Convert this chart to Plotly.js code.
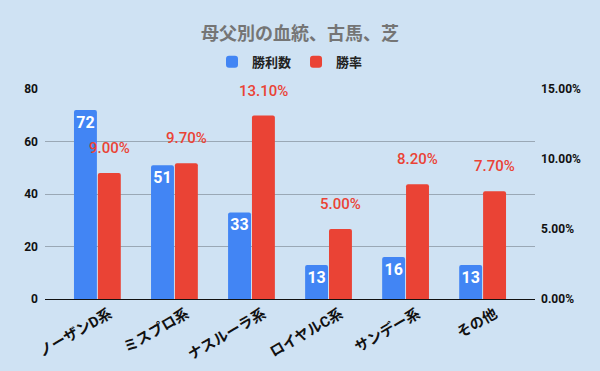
<!DOCTYPE html>
<html>
<head>
<meta charset="utf-8">
<script src="https://cdn.plot.ly/plotly-3.0.1.min.js"></script>
<style>html,body{margin:0;padding:0;background:#cfe2f3;}#chart{width:600px;height:371px;}</style>
</head>
<body>
<div id="chart"></div>
<script>
const categories = ["ノーザンD系", "ミスプロ系", "ナスルーラ系", "ロイヤルC系", "サンデー系", "その他"];
const wins = [72, 51, 33, 13, 16, 13];
const winRate = [0.09, 0.097, 0.131, 0.05, 0.082, 0.077];
const leftTicks = [0, 20, 40, 60, 80];
const rightTicks = [0, 0.05, 0.10, 0.15];

const FONT = "Roboto, 'Noto Sans CJK JP', sans-serif";
const xs = categories.map((c, i) => i);

const traces = [
  {
    type: "bar", name: "勝利数", x: xs, y: wins, offsetgroup: "a",
    marker: {color: "#4285f4", cornerradius: 2},
    text: wins.map(String), textposition: "inside", insidetextanchor: "end",
    textfont: {color: "#ffffff", size: 16, family: FONT, weight: 700},
    constraintext: "none", yaxis: "y", hoverinfo: "skip"
  },
  {
    type: "bar", name: "勝率", x: xs, y: winRate, offsetgroup: "b",
    marker: {color: "#ea4335", cornerradius: 2},
    yaxis: "y2", hoverinfo: "skip"
  }
];

const annotations = winRate.map((v, i) => ({
  x: i, y: v, xref: "x", yref: "y2",
  text: (v * 100).toFixed(2) + "%",
  showarrow: false, xshift: 12, yshift: 25,
  font: {color: "#ea4335", size: 15, family: FONT, weight: 500},
  bgcolor: "rgba(0,0,0,0)"
}));

const layout = {
  width: 600, height: 371,
  paper_bgcolor: "#cfe2f3", plot_bgcolor: "#cfe2f3",
  margin: {l: 45, r: 65, t: 89, b: 72},
  title: {text: "母父別の血統、古馬、芝", x: 0.5, xanchor: "center", y: 0.91, yanchor: "middle",
          font: {family: FONT, size: 18, color: "#757575", weight: 700}},
  showlegend: true,
  legend: {orientation: "h", x: 0.5, xanchor: "center", y: 1.13, yanchor: "middle",
           font: {family: FONT, size: 13, color: "#222222", weight: 700},
           itemwidth: 30, bgcolor: "rgba(0,0,0,0)"},
  barmode: "group", bargap: 0.38, bargroupgap: 0.04,
  xaxis: {
    tickmode: "array", tickvals: xs, ticktext: categories,
    range: [-0.68, 5.68], tickangle: -30,
    tickfont: {family: FONT, size: 14.5, color: "#111111", weight: 700},
    showgrid: false, zeroline: false, showline: false, ticks: "",
    ticklabelshift: 12, ticklabelstandoff: 3
  },
  yaxis: {
    range: [0, 80], tickmode: "array", tickvals: leftTicks,
    tickfont: {family: FONT, size: 12, color: "#111111", weight: 700},
    gridcolor: "#9aa8b5", gridwidth: 1, zeroline: true, zerolinecolor: "#111111", zerolinewidth: 1,
    showline: false, ticks: "", ticklabelstandoff: 6
  },
  yaxis2: {
    range: [0, 0.15], overlaying: "y", side: "right", tickmode: "array", tickvals: rightTicks,
    tickformat: ".2%",
    tickfont: {family: FONT, size: 12, color: "#111111", weight: 700},
    showgrid: false, zeroline: false, showline: false, ticks: "", ticklabelstandoff: 5
  },
  annotations: annotations
};

Plotly.newPlot("chart", traces, layout, {displayModeBar: false, staticPlot: true});
</script>
</body>
</html>
